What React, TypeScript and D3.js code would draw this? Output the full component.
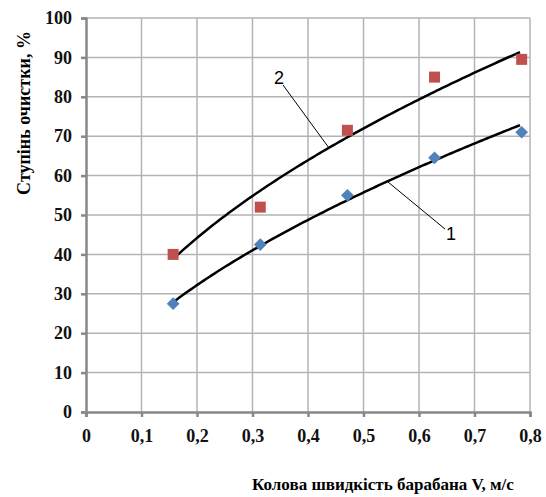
import React, { useRef, useEffect } from "react";
import * as d3 from "d3";

const speeds = [0.157, 0.314, 0.471, 0.628, 0.785];
const series1 = [27.5, 42.5, 55, 64.5, 71];
const series2 = [40, 52, 71.5, 85, 89.5];
const xTicks = [0, 0.1, 0.2, 0.3, 0.4, 0.5, 0.6, 0.7, 0.8];
const yTicks = [0, 10, 20, 30, 40, 50, 60, 70, 80, 90, 100];

// power trend y = a * x^b, least squares in log-log
const powerFit = (xs: number[], ys: number[]) => {
  const lx = xs.map(Math.log);
  const ly = ys.map(Math.log);
  const mx = d3.mean(lx) as number;
  const my = d3.mean(ly) as number;
  const b =
    d3.sum(lx, (v, i) => (v - mx) * (ly[i] - my)) /
    d3.sum(lx, (v) => (v - mx) * (v - mx));
  const a = Math.exp(my - b * mx);
  return (x: number) => a * Math.pow(x, b);
};

const App = () => {
  const ref = useRef<SVGSVGElement>(null);

  useEffect(() => {
    const svg = d3.select(ref.current);
    svg.selectAll("*").remove();

    const width = 546;
    const height = 497;
    const margin = { top: 18, right: 16, bottom: 85, left: 86 };

    const x = d3.scaleLinear().domain([0, 0.8]).range([margin.left, width - margin.right]);
    const y = d3.scaleLinear().domain([0, 100]).range([height - margin.bottom, margin.top]);

    const serif = "Liberation Serif, DejaVu Serif, serif";

    // grid
    svg
      .append("g")
      .selectAll("line")
      .data(yTicks.slice(1))
      .join("line")
      .attr("x1", x(0))
      .attr("x2", x(0.8))
      .attr("y1", (d) => y(d))
      .attr("y2", (d) => y(d))
      .attr("stroke", "#b3b3b3")
      .attr("stroke-width", 1.5);

    svg
      .append("g")
      .selectAll("line")
      .data(xTicks.slice(1))
      .join("line")
      .attr("x1", (d) => x(d))
      .attr("x2", (d) => x(d))
      .attr("y1", y(0))
      .attr("y2", y(100))
      .attr("stroke", "#b3b3b3")
      .attr("stroke-width", 1.5);

    // axes
    const fmt = (d: number) => String(d).replace(".", ",");
    const xAxis = svg
      .append("g")
      .attr("transform", `translate(0,${y(0)})`)
      .call(
        d3.axisBottom(x).tickValues(xTicks).tickSize(5).tickPadding(12).tickFormat((d) => fmt(d as number))
      );
    const yAxis = svg
      .append("g")
      .attr("transform", `translate(${x(0)},0)`)
      .call(d3.axisLeft(y).tickValues(yTicks).tickSize(5).tickPadding(9));

    [xAxis, yAxis].forEach((g) => {
      g.attr("font-family", null).attr("font-size", null);
      g.selectAll("path, line").attr("stroke", "#888").attr("stroke-width", 2.5);
      g.selectAll("text")
        .style("font-family", serif)
        .style("font-weight", "bold")
        .style("font-size", "18px")
        .attr("fill", "#111");
    });

    // trend lines
    const xs = d3.range(0.157, 0.7851, 0.005);
    [series1, series2].forEach((s) => {
      const f = powerFit(speeds, s);
      svg
        .append("path")
        .datum(xs)
        .attr("fill", "none")
        .attr("stroke", "#000")
        .attr("stroke-width", 2.5)
        .attr(
          "d",
          d3
            .line<number>()
            .x((d) => x(d))
            .y((d) => y(f(d)))
        );
    });

    // markers
    svg
      .append("g")
      .selectAll("path")
      .data(series1)
      .join("path")
      .attr("transform", (d, i) => `translate(${x(speeds[i])},${y(d)}) rotate(45)`)
      .attr("d", "M-4.5,-4.5H4.5V4.5H-4.5Z")
      .attr("fill", "#4f81bd");

    svg
      .append("g")
      .selectAll("rect")
      .data(series2)
      .join("rect")
      .attr("x", (d, i) => x(speeds[i]) - 5.5)
      .attr("y", (d) => y(d) - 5.5)
      .attr("width", 11)
      .attr("height", 11)
      .attr("fill", "#c0504d");

    // callouts
    svg.append("line").attr("x1", 283).attr("y1", 85).attr("x2", 329).attr("y2", 148).attr("stroke", "#000").attr("stroke-width", 1);
    svg.append("line").attr("x1", 388).attr("y1", 182).attr("x2", 445).attr("y2", 229).attr("stroke", "#000").attr("stroke-width", 1);
    svg
      .append("text")
      .attr("x", 279)
      .attr("y", 84)
      .attr("text-anchor", "middle")
      .style("font-family", "Liberation Sans, Arial, sans-serif")
      .style("font-size", "18px")
      .text("2");
    svg
      .append("text")
      .attr("x", 451)
      .attr("y", 240)
      .attr("text-anchor", "middle")
      .style("font-family", "Liberation Sans, Arial, sans-serif")
      .style("font-size", "18px")
      .text("1");

    // titles
    svg
      .append("text")
      .attr("x", 383)
      .attr("y", 490)
      .attr("text-anchor", "middle")
      .style("font-family", serif)
      .style("font-weight", "bold")
      .style("font-size", "17px")
      .text("Колова швидкість  барабана V, м/с");

    svg
      .append("text")
      .attr("transform", "rotate(-90)")
      .attr("x", -113)
      .attr("y", 30)
      .attr("text-anchor", "middle")
      .style("font-family", serif)
      .style("font-weight", "bold")
      .style("font-size", "18px")
      .text("Ступінь  очистки, %");
  }, []);

  return <svg ref={ref} width={546} height={497} style={{ position: "absolute", left: 0, top: 0 }}></svg>;
};

export default App;
